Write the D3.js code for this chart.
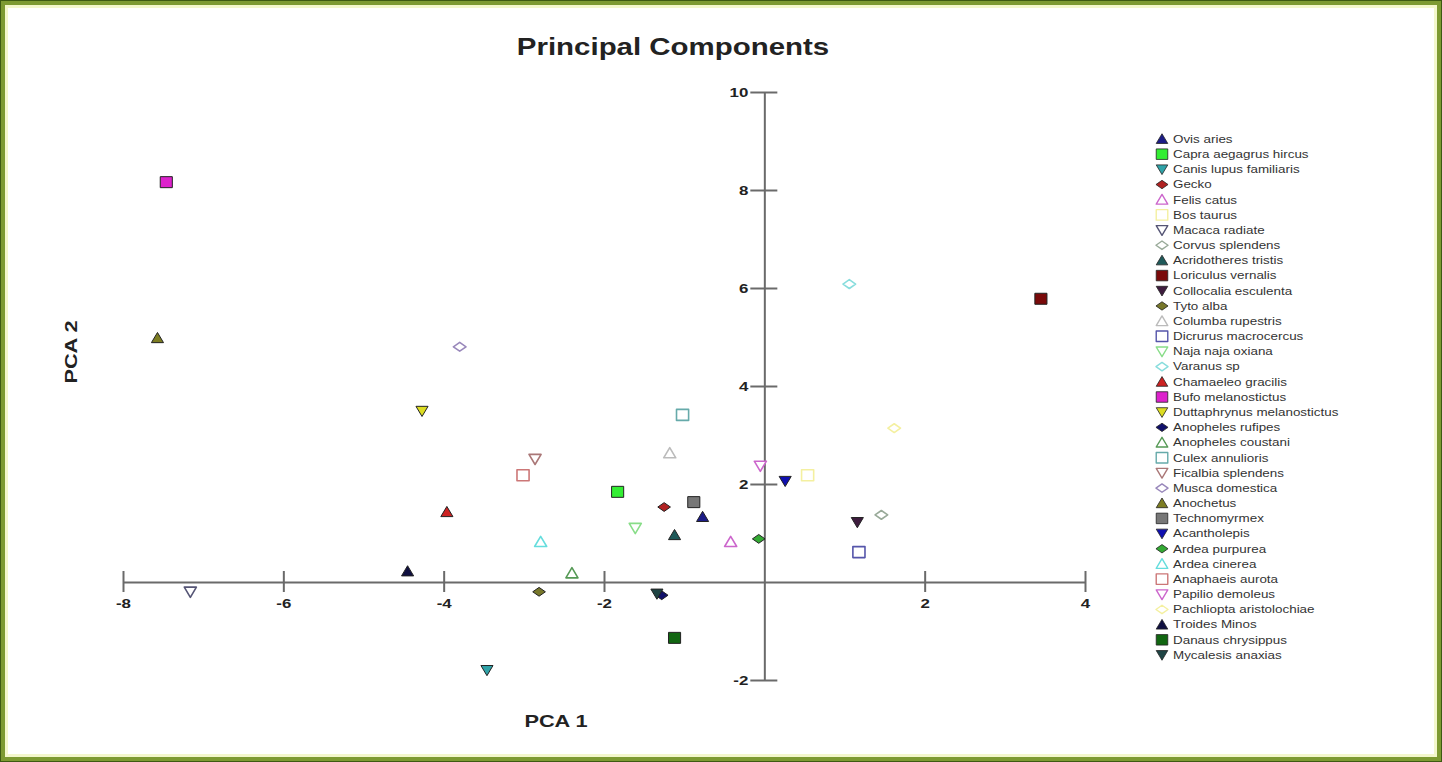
<!DOCTYPE html>
<html>
<head>
<meta charset="utf-8">
<script src="https://cdn.jsdelivr.net/npm/d3@7"></script>
<style>
html,body{margin:0;padding:0;background:#fff;}
svg{display:block;}
</style>
</head>
<body>
<svg id="chart" width="1442" height="762"></svg>
<script>
// ---- Data ----
const species = ["Ovis aries","Capra aegagrus hircus","Canis lupus familiaris","Gecko","Felis catus","Bos taurus","Macaca radiate","Corvus splendens","Acridotheres tristis","Loriculus vernalis","Collocalia esculenta","Tyto alba","Columba rupestris","Dicrurus macrocercus","Naja naja oxiana","Varanus sp","Chamaeleo gracilis","Bufo melanostictus","Duttaphrynus melanostictus","Anopheles rufipes","Anopheles coustani","Culex annulioris","Ficalbia splendens","Musca domestica","Anochetus","Technomyrmex","Acantholepis","Ardea purpurea","Ardea cinerea","Anaphaeis aurota","Papilio demoleus","Pachliopta aristolochiae","Troides Minos","Danaus chrysippus","Mycalesis anaxias"];
const pca1 = [-0.77,-1.83,-3.46,-1.25,-0.42,0.54,-7.16,1.46,-1.12,3.45,1.16,-2.81,-1.18,1.18,-1.61,1.06,-3.96,-7.46,-4.27,-1.28,-2.40,-1.02,-2.86,-3.80,-7.57,-0.88,0.26,-0.07,-2.79,-3.01,-0.05,1.62,-4.45,-1.12,-1.34];
const pca2 = [1.33,1.84,-1.80,1.53,0.82,2.18,-0.20,1.37,0.96,5.78,1.22,-0.20,2.63,0.61,1.10,6.08,1.43,8.16,3.49,-0.27,0.18,3.41,2.51,4.80,4.98,1.63,2.06,0.88,0.82,2.18,2.37,3.14,0.22,-1.14,-0.24];
const shapes = ["tu","sq","td","di","tu","sq","td","di","tu","sq","td","di","tu","sq","td","di","tu","sq","td","di","tu","sq","td","di","tu","sq","td","di","tu","sq","td","di","tu","sq","td"];
const filled = [1,1,1,1,0,0,0,0,1,1,1,1,0,0,0,0,1,1,1,1,0,0,0,0,1,1,1,1,0,0,0,0,1,1,1];
const colors = ["#1c1c86","#33ee33","#2fa3a8","#b02222","#cc66cc","#f4f0a0","#555575","#99aa99","#1f5a5a","#7a0a0a","#3e1c3e","#77772a","#bbbbbb","#5555aa","#88dd88","#88dddd","#cc2222","#dd22cc","#dddd22","#10106a","#559955","#66aaaa","#aa7777","#9988bb","#7d7d22","#777777","#1010b0","#33aa33","#66dddd","#cc7777","#cc66cc","#f4f0a0","#101040","#116611","#1f4444"];
const xTicks = [-8,-6,-4,-2,2,4];
const yTicks = [-2,2,4,6,8,10];

// ---- Layout ----
const svg = d3.select("#chart");
const W = 1442, H = 762;
const STRETCH = 1.3;

// frame
svg.append("rect").attr("x",2.5).attr("y",2.5).attr("width",W-5).attr("height",H-5)
  .attr("fill","#fff").attr("stroke","#7d9a32").attr("stroke-width",5);
svg.append("rect").attr("x",0.5).attr("y",0.5).attr("width",W-1).attr("height",H-1)
  .attr("fill","none").attr("stroke","#3d5a12").attr("stroke-width",1);
svg.append("rect").attr("x",6.5).attr("y",6.5).attr("width",W-13).attr("height",H-13)
  .attr("fill","none").attr("stroke","#f3f7cc").attr("stroke-width",3);

const x = d3.scaleLinear().domain([-8,4]).range([123,1085]);
const y = d3.scaleLinear().domain([-2,10]).range([680,92]);

const axisColor = "#6a6a6a";
const font = "Liberation Sans, Arial, sans-serif";
const fmt = d => String(d);

const x0 = x(0), y0 = y(0);
const xAxis = svg.append("g").attr("transform",`translate(0,${y0})`)
  .call(d3.axisBottom(x).tickValues(xTicks).tickSize(0).tickFormat(fmt));
xAxis.select(".domain").attr("stroke",axisColor).attr("stroke-width",2);
xAxis.selectAll(".tick line").remove();
xAxis.selectAll(".tick").append("line").attr("y1",-11).attr("y2",10)
  .attr("stroke",axisColor).attr("stroke-width",2);
xAxis.selectAll(".tick text").attr("y",17).attr("x",0).attr("dy","0.71em")
  .attr("transform",`scale(${STRETCH},1)`)
  .attr("font-family",font).attr("font-size",13).attr("font-weight","bold").attr("fill","#222");

const yAxis = svg.append("g").attr("transform",`translate(${x0},0)`)
  .call(d3.axisLeft(y).tickValues(yTicks).tickSize(0).tickFormat(fmt));
yAxis.select(".domain").attr("stroke",axisColor).attr("stroke-width",2);
yAxis.selectAll(".tick line").remove();
yAxis.selectAll(".tick").append("line").attr("x1",-14).attr("x2",13)
  .attr("stroke",axisColor).attr("stroke-width",2);
yAxis.selectAll(".tick text").attr("x",-16/STRETCH)
  .attr("transform",`scale(${STRETCH},1)`)
  .attr("font-family",font).attr("font-size",13).attr("font-weight","bold").attr("fill","#222");
svg.selectAll(".domain").attr("fill","none");

// Title & axis labels
svg.append("text").attr("transform",`translate(673,55) scale(1.28,1)`).attr("text-anchor","middle")
  .attr("font-family",font).attr("font-size",23).attr("font-weight","bold").attr("fill","#222")
  .text("Principal Components");
svg.append("text").attr("transform",`translate(556,727) scale(1.28,1)`).attr("text-anchor","middle")
  .attr("font-family",font).attr("font-size",17).attr("font-weight","bold").attr("fill","#222")
  .text("PCA 1");
svg.append("text").attr("transform","translate(77,352) rotate(-90) scale(1.28,1)").attr("text-anchor","middle")
  .attr("font-family",font).attr("font-size",17).attr("font-weight","bold").attr("fill","#222")
  .text("PCA 2");

// marker path generator
function markerPath(shape, s){
  const h = s/2;
  switch(shape){
    case "tu": return `M0,${-h} L${h*1.1},${h*0.85} L${-h*1.1},${h*0.85} Z`;
    case "td": return `M0,${h} L${h*1.1},${-h*0.85} L${-h*1.1},${-h*0.85} Z`;
    case "di": return `M0,${-h*0.8} L${h*1.15},0 L0,${h*0.8} L${-h*1.15},0 Z`;
    default:   return `M${-h*1.1},${-h} L${h*1.1},${-h} L${h*1.1},${h} L${-h*1.1},${h} Z`;
  }
}

const pts = species.map((s,i)=>({name:s, x:pca1[i], y:pca2[i], shape:shapes[i], filled:filled[i], color:colors[i]}));

svg.append("g").selectAll("path").data(pts).join("path")
  .attr("transform",d=>`translate(${x(d.x)},${y(d.y)})`)
  .attr("d",d=>markerPath(d.shape, 11))
  .attr("fill",d=>d.filled?d.color:"#fff")
  .attr("stroke",d=>d.filled?"#222":d.color)
  .attr("stroke-width",d=>d.filled?1:1.6)
  .attr("stroke-linejoin","round");

// legend
const ly = d3.scaleLinear().domain([0,34]).range([139,655]);
const leg = svg.append("g").selectAll("g").data(pts).join("g")
  .attr("transform",(d,i)=>`translate(1162,${ly(i)})`);
leg.append("path")
  .attr("d",d=>markerPath(d.shape, 10.5))
  .attr("fill",d=>d.filled?d.color:"#fff")
  .attr("stroke",d=>d.filled?"#222":d.color)
  .attr("stroke-width",d=>d.filled?0.8:1.4)
  .attr("stroke-linejoin","round");
leg.append("text").attr("transform","translate(11,0) scale(1.22,1)").attr("dy","0.35em")
  .attr("font-family",font).attr("font-size",11).attr("fill","#333")
  .text(d=>d.name);
</script>
</body>
</html>
